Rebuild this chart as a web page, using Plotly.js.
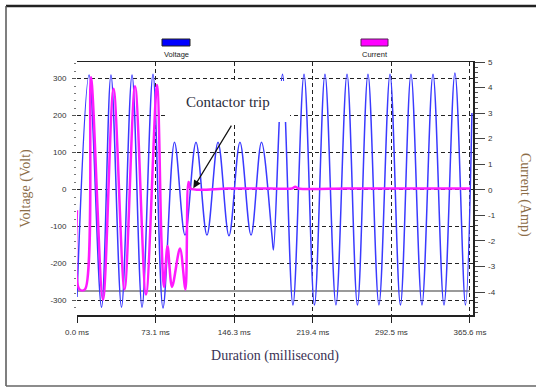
<!DOCTYPE html>
<html><head><meta charset="utf-8">
<script src="https://cdn.plot.ly/plotly-3.0.1.min.js"></script>
<style>html,body{margin:0;padding:0;background:#fff;} #chart{width:536px;height:387px;}</style>
</head><body><div id="chart"></div>
<script>
// Voltage waveform extremes (ms, Volt)
const voltageTime = [0, 11.2, 22.8, 31.6, 41.4, 51.2, 60.5, 70.7, 80.0,
  90.7, 100.5, 110.7, 120.9, 131.2, 141.4, 151.6, 161.9, 171.6, 181.4, 182.8,
  191.2, 200.9, 211.2, 220.9, 230.7, 240.9, 251.2, 260.9, 270.7, 280.9, 291.2,
  300.9, 310.7, 320.9, 331.2, 341.4, 351.6, 361.4, 367.4];
const voltageValue = [-290, 310, -318, 310, -318, 310, -318, 312, -320,
  128, -123, 128, -123, 128, -125, 128, -123, 128, -125, -163,
  312, -312, 312, -312, 312, -312, 312, -312, 312, -312, 312,
  -312, 312, -312, 312, -312, 315, -312, 207];
// Current waveform (ms, Amp)
const currentTime = [0, 2.3, 7.4, 13.0, 24.2, 34.0, 44.2, 54.0, 64.2, 74.4,
  78.6, 80.9, 84.2, 88.4, 95.8, 100.9, 103.7, 105.6, 140, 180, 200, 203, 206,
  250, 300, 365.6];
const currentValue = [-0.8, -3.9, -3.9, 4.4, -4.3, 3.95, -3.9, 4.05, -4.1, 4.1,
  -2.0, -3.8, -2.2, -3.8, -2.3, -3.9, 0.3, 0.05, 0.05, 0.05, 0.05, 0.12, 0.05,
  0.05, 0.05, 0.05];
// Grey reference line (Volt)
const baselineTime = [0, 365.6];
const baselineValue = [-274, -274];

const xTickValues = [0, 73.1, 146.3, 219.4, 292.5, 365.6];
const xTickLabels = ['0.0 ms', '73.1 ms', '146.3 ms', '219.4 ms', '292.5 ms', '365.6 ms'];
const voltageTicks = [-300, -200, -100, 0, 100, 200, 300];
const voltageTickLabels = ['-300', '-200', '-100', '0', '100', '200', '300'];
const currentTicks = [-4, -3, -2, -1, 0, 1, 2, 3, 4, 5];
const currentTickLabels = ['-4', '-3', '-2', '-1', '0', '1', '2', '3', '4', '5'];

const tickFont = {family: 'Liberation Sans, Arial, sans-serif', size: 8, color: '#333'};
const gridDash = '4px,3px';

const traces = [
  {x: baselineTime, y: baselineValue, type: 'scatter', mode: 'lines',
   line: {color: '#9a9a9a', width: 2}, hoverinfo: 'skip', showlegend: false},
  {x: voltageTime, y: voltageValue, name: 'Voltage', type: 'scatter', mode: 'lines',
   line: {color: '#3a3aff', width: 1.5, shape: 'spline', smoothing: 1}},
  {x: currentTime, y: currentValue, name: 'Current', type: 'scatter', mode: 'lines', yaxis: 'y2',
   line: {color: '#ff1aff', width: 2.5, shape: 'spline', smoothing: 0.9}}
];

const px = X => (X - 77) / 396;
const py = Y => (315 - Y) / 253;

const layout = {
  width: 536, height: 387,
  margin: {l: 77, r: 63, t: 62, b: 72},
  paper_bgcolor: '#fff', plot_bgcolor: '#fff',
  showlegend: false,
  xaxis: {
    range: [0, 368.4], tickmode: 'array', tickvals: xTickValues, ticktext: xTickLabels,
    ticks: 'outside', ticklen: 6, tickcolor: '#222', tickfont: tickFont, ticklabelstandoff: 3,
    showline: true, linecolor: '#222', linewidth: 1.5, mirror: true,
    showgrid: true, gridcolor: '#222', griddash: gridDash, gridwidth: 1, zeroline: false,
    title: {text: 'Duration (millisecond)', standoff: 14,
      font: {family: 'Liberation Serif, Times New Roman, serif', size: 14, color: '#3b3355'}}
  },
  yaxis: {
    range: [-339, 345], tickmode: 'array', tickvals: voltageTicks, ticktext: voltageTickLabels,
    ticks: 'outside', ticklen: 4, tickcolor: '#555', tickfont: tickFont, ticklabelstandoff: 4,
    showline: false, showgrid: true, gridcolor: '#222', griddash: gridDash, gridwidth: 1,
    zeroline: false,
    minor: {ticks: 'outside', ticklen: 2, dtick: 20, tickcolor: '#777', showgrid: false},
    title: {text: 'Voltage (Volt)', standoff: 16,
      font: {family: 'Liberation Serif, Times New Roman, serif', size: 14, color: '#8c6d48'}}
  },
  yaxis2: {
    overlaying: 'y', side: 'right', range: [-4.9, 5.0],
    tickmode: 'array', tickvals: currentTicks, ticktext: currentTickLabels,
    ticks: 'outside', ticklen: 10, tickcolor: '#444', tickfont: tickFont, ticklabelstandoff: 2,
    showline: true, linecolor: '#222', linewidth: 1.5, showgrid: false, zeroline: false,
    minor: {ticks: 'outside', ticklen: 3, dtick: 0.2, tickcolor: '#555', showgrid: false}
  },
  shapes: [
    // white box behind annotation text
    {type: 'rect', xref: 'paper', yref: 'paper', x0: px(165), x1: px(290), y0: py(122), y1: py(81),
     fillcolor: '#fff', line: {width: 0}, layer: 'above'},
    // outer frame
    {type: 'line', xref: 'paper', yref: 'paper', x0: px(6), x1: px(540), y0: py(6), y1: py(6),
     line: {color: '#222', width: 2.5}},
    {type: 'line', xref: 'paper', yref: 'paper', x0: px(6), x1: px(6), y0: py(6), y1: py(386),
     line: {color: '#555', width: 1.5}},
    {type: 'line', xref: 'paper', yref: 'paper', x0: px(6), x1: px(540), y0: py(386), y1: py(386),
     line: {color: '#666', width: 1.5}},
    // legend swatches
    {type: 'rect', xref: 'paper', yref: 'paper', x0: px(162), x1: px(190), y0: py(46), y1: py(39),
     fillcolor: '#0000ff', line: {color: '#222', width: 1}},
    {type: 'rect', xref: 'paper', yref: 'paper', x0: px(361), x1: px(388), y0: py(46), y1: py(39),
     fillcolor: '#ff00ff', line: {color: '#552255', width: 1}}
  ],
  annotations: [
    {xref: 'paper', yref: 'paper', x: px(176), y: py(55), xanchor: 'center', yanchor: 'middle',
     text: 'Voltage', showarrow: false,
     font: {family: 'Liberation Sans, Arial, sans-serif', size: 7.5, color: '#222'}},
    {xref: 'paper', yref: 'paper', x: px(375), y: py(55), xanchor: 'center', yanchor: 'middle',
     text: 'Current', showarrow: false,
     font: {family: 'Liberation Sans, Arial, sans-serif', size: 7.5, color: '#222'}},
    {xref: 'paper', yref: 'paper', x: px(228), y: py(102), xanchor: 'center', yanchor: 'middle',
     text: 'Contactor trip', showarrow: false,
     font: {family: 'Liberation Serif, Times New Roman, serif', size: 15, color: '#2b2b3a'}},
    {xref: 'x', yref: 'y', x: 108.2, y: 4, text: '', showarrow: true, arrowhead: 2,
     arrowsize: 1.3, arrowwidth: 1.2, arrowcolor: '#111', ax: 39, ay: -64},
    {xref: 'paper', yref: 'paper', x: px(525), y: py(195), xanchor: 'center', yanchor: 'middle',
     text: 'Current (Amp)', showarrow: false, textangle: 90,
     font: {family: 'Liberation Serif, Times New Roman, serif', size: 14, color: '#8c6d48'}}
  ]
};

Plotly.newPlot('chart', traces, layout, {displayModeBar: false, staticPlot: true});
</script>
</body></html>
